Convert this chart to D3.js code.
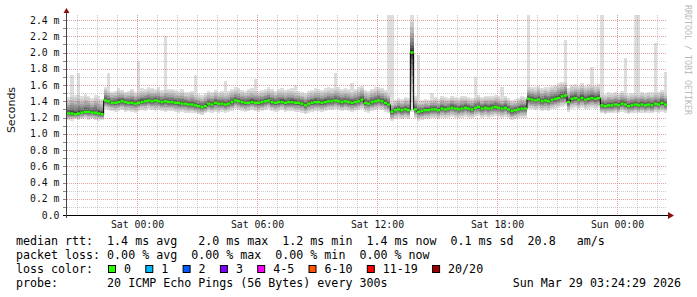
<!DOCTYPE html>
<html><head><meta charset="utf-8">
<script src="https://cdn.jsdelivr.net/npm/d3@7"></script>
<style>html,body{margin:0;padding:0;background:#fff}svg{display:block}text{white-space:pre}</style>
</head><body>
<script>
// ---- data (10-minute steps, hours relative to Sat 00:00) ----
const startHour = -3.5;
const stepHours = 1/6;
const median = [
1.25,1.25,1.24,1.25,1.26,1.27,1.27,1.26,1.26,1.25,1.24,
1.41,1.40,1.38,1.38,1.39,1.40,1.39,1.38,1.38,1.37,1.38,1.39,1.40,1.41,1.40,1.41,1.40,1.39,1.40,1.39,
1.39,1.38,1.38,1.37,1.37,1.36,1.36,1.35,1.34,1.33,1.34,1.37,1.36,1.38,1.37,
1.37,1.36,1.37,1.39,1.41,1.40,1.39,1.38,1.38,1.39,1.38,1.38,1.39,1.40,1.41,1.39,1.38,1.39,1.39,1.38,
1.39,1.39,1.38,1.38,1.37,1.35,1.37,1.38,1.39,1.39,1.38,1.39,1.40,1.40,1.41,1.40,1.39,1.40,1.39,1.38,
1.39,1.40,1.42,1.38,1.37,
1.39,1.40,1.41,1.40,1.38,1.36,1.27,1.29,1.30,1.29,
1.30,1.29,2.00,1.30,1.27,1.28,1.29,1.29,1.30,1.30,
1.29,1.31,1.30,1.31,1.32,1.31,1.30,1.31,1.32,1.31,
1.30,1.32,1.33,1.31,1.32,1.31,1.32,1.33,1.32,1.31,
1.32,1.30,1.28,1.29,1.30,1.31,1.31,
1.43,1.42,1.41,1.42,1.40,1.41,1.40,1.42,1.43,1.44,
1.46,1.47,1.39,1.43,1.44,1.42,1.44,1.42,1.43,1.44,
1.43,1.44,
1.35,1.34,1.35,1.35,1.36,1.35,1.37,1.36,1.34,1.35,
1.36,1.35,1.36,1.35,1.36,1.35,1.37,1.36,1.38,1.36
];
const low = [
1.17,1.16,1.18,1.17,1.18,1.19,1.17,1.18,1.17,1.16,1.17,
1.31,1.29,1.28,1.27,1.28,1.29,1.27,1.28,1.27,1.26,
1.28,1.29,1.28,1.30,1.29,1.28,1.29,1.28,1.27,1.28,
1.28,1.27,1.26,1.27,1.26,1.25,1.26,1.25,1.24,1.23,1.25,1.27,1.26,1.27,1.26,
1.27,1.26,1.27,1.28,1.30,1.29,1.28,1.27,1.28,1.29,
1.28,1.27,1.28,1.29,1.30,1.28,1.27,1.28,1.29,1.27,
1.28,1.28,1.27,1.27,1.26,1.24,1.26,1.27,1.28,1.28,
1.27,1.28,1.29,1.29,1.30,1.29,1.28,1.29,1.28,1.27,
1.28,1.29,1.30,1.27,1.26,1.28,1.29,1.30,1.29,1.27,1.25,
1.16,1.18,1.19,1.18,1.19,1.18,1.27,1.19,1.16,1.17,
1.18,1.18,1.19,1.19,1.18,1.20,1.19,1.20,1.21,1.20,
1.19,1.20,1.21,1.20,1.19,1.21,1.22,1.20,1.21,1.20,
1.21,1.22,1.21,1.20,1.21,1.19,1.17,1.18,1.19,1.20,1.20,
1.30,1.30,1.29,1.30,1.28,1.29,1.28,1.30,1.31,1.32,
1.33,1.34,1.27,1.31,1.32,1.30,1.32,1.30,1.31,1.32,1.31,1.32,
1.25,1.24,1.25,1.25,1.26,1.25,1.27,1.26,1.24,1.25,
1.26,1.25,1.26,1.25,1.26,1.25,1.27,1.26,1.27,1.26
];
const high = [
1.45,1.50,1.48,1.52,1.46,1.49,1.47,1.44,1.48,1.46,1.43,
1.58,1.55,1.52,1.53,1.56,1.54,1.52,1.53,1.55,1.52,
1.54,1.56,1.55,1.57,1.56,1.55,1.57,1.54,1.56,1.55,
1.55,1.54,1.53,1.55,1.52,1.51,1.53,1.50,1.49,1.48,1.50,1.53,1.52,1.54,1.52,
1.53,1.52,1.53,1.55,1.57,1.56,1.54,1.53,1.55,1.56,
1.55,1.53,1.54,1.55,1.57,1.55,1.53,1.55,1.56,1.54,
1.55,1.56,1.54,1.53,1.52,1.50,1.53,1.54,1.56,1.55,
1.54,1.56,1.57,1.56,1.58,1.57,1.55,1.56,1.55,1.54,
1.55,1.57,1.59,1.54,1.53,1.55,1.57,1.58,1.56,1.54,1.52,
1.40,1.42,1.44,1.43,1.45,1.44,2.46,1.46,1.42,1.41,
1.43,1.42,1.44,1.45,1.43,1.46,1.45,1.44,1.47,1.45,
1.44,1.46,1.47,1.45,1.44,1.46,1.48,1.45,1.47,1.46,
1.47,1.48,1.46,1.45,1.47,1.44,1.42,1.43,1.44,1.46,1.45,
1.60,1.58,1.57,1.59,1.56,1.58,1.57,1.59,1.60,1.62,
1.64,1.66,1.56,1.60,1.61,1.59,1.62,1.59,1.61,1.62,1.60,1.61,
1.50,1.49,1.51,1.50,1.52,1.50,1.53,1.52,1.49,1.50,
1.52,1.51,1.52,1.50,1.52,1.51,1.53,1.52,1.54,1.52
];
// occasional single slow pings: [step index, value in ms]
const spikes = [
[1,1.72],[3,1.75],[12,1.75],[21,1.90],[29,2.20],[38,1.72],[47,1.65],[56,1.68],
[68,1.60],[80,1.75],[85,1.63],[96,2.46],[97,2.46],[105,1.97],[109,1.50],[122,1.70],
[130,1.58],[138,2.46],[149,2.15],[157,1.82],[160,2.46],[167,1.93],[170,2.46],[171,2.46],
[176,2.12],[179,1.76]
];
const yTickValues = [0,0.2,0.4,0.6,0.8,1.0,1.2,1.4,1.6,1.8,2.0,2.2,2.4];
const yTickLabels = ["0.0","0.2 m","0.4 m","0.6 m","0.8 m","1.0 m","1.2 m","1.4 m","1.6 m","1.8 m","2.0 m","2.2 m","2.4 m"];
const xTickHours = [0,6,12,18,24];
const xTickLabels = ["Sat 00:00","Sat 06:00","Sat 12:00","Sat 18:00","Sun 00:00"];
const lossLabels = ["0","1","2","3","4-5","6-10","11-19","20/20"];
const lossColors = ["#26ff00","#00b8ff","#0059ff","#7e00ff","#ff00ff","#ff5500","#ff0000","#a10000"];
const legendLines = [
 "median rtt:  1.4 ms avg   2.0 ms max  1.2 ms min  1.4 ms now  0.1 ms sd  20.8   am/s",
 "packet loss: 0.00 % avg  0.00 % max  0.00 % min  0.00 % now",
 "loss color:",
 "probe:       20 ICMP Echo Pings (56 Bytes) every 300s"
];
const stampText = "Sun Mar 29 03:24:29 2026";

// ---- layout ----
const W=697,H=297, X0=67, X1=667, Y0=215, Y1=15;
const mono="'DejaVu Sans Mono', monospace";
const x = d3.scaleLinear().domain([startHour, startHour+30]).range([X0,X1]);
const y = d3.scaleLinear().domain([0, 200/81.25]).range([Y0,Y1]);
const yMax = y.domain()[1];
const svg = d3.select("body").append("svg").attr("width",W).attr("height",H);
svg.append("rect").attr("width",W).attr("height",H).attr("fill","#fff");

const px = v => Math.round(v)+0.5;
const stepW = x(startHour+stepHours)-x(startHour);
const xs = i => x(startHour+i*stepHours);

// ---- smoke ----
const sm = svg.append("g").attr("shape-rendering","crispEdges");
sm.selectAll(".sp").data(spikes).enter().append("rect")
 .attr("x",d=>xs(d[0])).attr("width",stepW)
 .attr("y",d=>y(Math.min(d[1],yMax))).attr("height",d=>y(high[d[0]])-y(Math.min(d[1],yMax)))
 .attr("fill","#dddddd");
const L=10;
for(let k=0;k<L;k++){
  const f = Math.pow((L-k)/L,1.8);
  const t = k/(L-1);
  const c = Math.round(222 - (222-25)*Math.pow(t,1.1));
  const col = d3.rgb(c,c,c).toString();
  sm.selectAll(".b"+k).data(median).enter().append("rect")
   .attr("x",(d,i)=>xs(i)).attr("width",stepW)
   .attr("y",(d,i)=>y(Math.min(d+(high[i]-d)*f, yMax)))
   .attr("height",(d,i)=>Math.max(0.6, y(d-(d-low[i])*f)-y(Math.min(d+(high[i]-d)*f, yMax))))
   .attr("fill",col);
}

// ---- grid (drawn semi-transparent so it shows over light smoke) ----
const g = svg.append("g");
const minorY = d3.range(1,25).filter(k=>k%2).map(k=>k/10);
const minorX = d3.range(-3,27).filter(h=>h%6!==0);
g.selectAll(".mgy").data(minorY).enter().append("line")
 .attr("x1",X0).attr("x2",X1).attr("y1",d=>px(y(d))).attr("y2",d=>px(y(d)))
 .attr("stroke","#a0a0a0").attr("stroke-opacity",0.55).attr("stroke-dasharray","1,1");
g.selectAll(".mgx").data(minorX).enter().append("line")
 .attr("y1",Y1).attr("y2",Y0).attr("x1",d=>px(x(d))).attr("x2",d=>px(x(d)))
 .attr("stroke","#a0a0a0").attr("stroke-opacity",0.55).attr("stroke-dasharray","1,1");
g.selectAll(".Mgy").data(yTickValues.slice(1)).enter().append("line")
 .attr("x1",X0).attr("x2",X1).attr("y1",d=>px(y(d))).attr("y2",d=>px(y(d)))
 .attr("stroke","#d06060").attr("stroke-opacity",0.6).attr("stroke-dasharray","1,1");
g.selectAll(".Mgx").data(xTickHours).enter().append("line")
 .attr("y1",Y1).attr("y2",Y0).attr("x1",d=>px(x(d))).attr("x2",d=>px(x(d)))
 .attr("stroke","#d06060").attr("stroke-opacity",0.6).attr("stroke-dasharray","1,1");

// median
const pts = median.map((v,i)=>[xs(i),y(v)]);
pts.push([xs(median.length), y(median[median.length-1])]);
svg.append("path").attr("d",d3.line().curve(d3.curveStepAfter)(pts))
 .attr("fill","none").attr("stroke","#000").attr("stroke-width",1);
svg.selectAll(".med").data(median).enter().append("line")
 .attr("x1",(d,i)=>xs(i)).attr("x2",(d,i)=>xs(i)+stepW)
 .attr("y1",d=>y(d)).attr("y2",d=>y(d))
 .attr("stroke","#26ff00").attr("stroke-width",2.4);

// ---- axes ----
const ax = svg.append("g").attr("shape-rendering","crispEdges");
ax.selectAll(".yt").data(d3.range(0,25).map(k=>k/10)).enter().append("line")
 .attr("x1",63).attr("x2",66).attr("y1",d=>px(y(d))).attr("y2",d=>px(y(d))).attr("stroke","#888");
ax.append("line").attr("x1",63).attr("x2",671).attr("y1",Y0+0.5).attr("y2",Y0+0.5).attr("stroke","#000");
ax.append("line").attr("x1",66.5).attr("x2",66.5).attr("y1",Y0+3).attr("y2",12).attr("stroke","#444");
svg.append("path").attr("d","M668,212 L674,215.5 L668,219 Z").attr("fill","#8b1010");
svg.append("path").attr("d","M63.5,13 L66.5,8 L69.5,13 Z").attr("fill","#8b1010");

svg.selectAll(".yl").data(yTickValues).enter().append("text")
 .attr("x",59.5).attr("y",d=>y(d)+3.6).attr("text-anchor","end")
 .attr("font-family",mono).attr("font-size","9.8px").attr("fill","#111")
 .text((d,i)=>yTickLabels[i]);
svg.selectAll(".xl").data(xTickHours).enter().append("text")
 .attr("x",d=>x(d)+0.5).attr("y",227.5).attr("text-anchor","middle")
 .attr("font-family",mono).attr("font-size","9.8px").attr("fill","#111")
 .text((d,i)=>xTickLabels[i]);

svg.append("text").attr("transform","translate(14.5,110) rotate(-90)").attr("text-anchor","middle")
 .attr("font-family","'DejaVu Sans', sans-serif").attr("font-size","11px").attr("fill","#111").text("Seconds");
svg.append("text").attr("transform","translate(684.5,5) rotate(90)")
 .attr("font-family",mono).attr("font-size","8.3px").attr("fill","#bbb").text("RRDTOOL / TOBI OETIKER");

// ---- legend ----
const base=[245,259,273,287];
legendLines.forEach((t,i)=>{
  svg.append("text").attr("x",16).attr("y",base[i]).attr("font-family",mono)
   .attr("font-size","11.65px").attr("fill","#000").text(t);
});
let bx=108;
lossLabels.forEach((lab,i)=>{
  svg.append("rect").attr("x",bx+0.5).attr("y",265.5).attr("width",7).attr("height",7)
   .attr("fill",lossColors[i]).attr("stroke","#000").attr("stroke-width",1);
  svg.append("text").attr("x",bx+16).attr("y",273).attr("font-family",mono)
   .attr("font-size","11.65px").attr("fill","#000").text(lab);
  bx += 7*lab.length + 30.3;
});
svg.append("text").attr("x",681).attr("y",287).attr("text-anchor","end").attr("font-family",mono)
 .attr("font-size","11.65px").attr("fill","#000").text(stampText);
</script>
</body></html>
